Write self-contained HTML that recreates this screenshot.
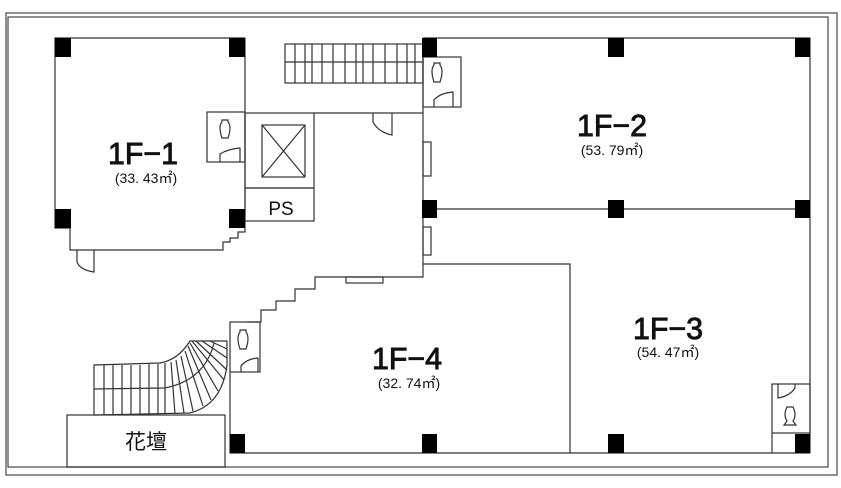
<!DOCTYPE html>
<html><head><meta charset="utf-8"><style>
html,body{margin:0;padding:0;background:#fff;}
svg{display:block;}
text{font-family:"Liberation Sans","Noto Sans CJK JP",sans-serif;fill:#111;}
.big{font-size:31px;stroke:#111;stroke-width:0.9;}
.small{font-size:14px;}
</style></head><body>
<svg width="841" height="488" viewBox="0 0 841 488" xmlns="http://www.w3.org/2000/svg">
<g fill="none" stroke="#555" stroke-width="1.3">
<rect x="6" y="13" width="831" height="462"/>
<rect x="8" y="17" width="820" height="450"/>
</g>
<g fill="none" stroke="#333" stroke-width="1.2">
<polyline points="245,38 55,38 55,228 70,228 70,250 223,250 223,242 230,242 230,238 238,238 238,232 245,232 245,38"/>
<path d="M77,250 L77,262 Q80,270 94,272 L94,250"/>
<rect x="207" y="112" width="38" height="50"/>
<path d="M220,162 L220,154 Q228,149 240,148 L240,162"/>
<path d="M222,120 h6 v2 q4,4 0,16 h-6 q-4,-12 0,-16 z"/>
<rect x="245" y="113" width="69" height="75"/>
<rect x="262" y="125" width="43" height="52"/>
<line x1="262" y1="125" x2="305" y2="177"/><line x1="305" y1="125" x2="262" y2="177"/>
<rect x="245" y="188" width="69" height="33"/>
<polyline points="314,113 423,113"/>
<path d="M373,113 L373,122 Q378,132 392,135 L392,113"/>
<polyline points="423,38 423,277 315,277 315,289 295,289 295,301 276,301 276,310 261,310 261,322 247,322"/>
<rect x="346" y="277" width="37" height="6"/>
<rect x="285" y="44" width="138" height="39"/>
<line x1="285" y1="62" x2="423" y2="62"/>
<path d="M295,44v39M305,44v39M312,44v39M322,44v39M333,44v39M345,44v39M356,44v39M363,44v39M373,44v39M385,44v39M397,44v39M407,44v39M415,44v39"/>
<polyline points="423,38 810,38 810,453"/>
<line x1="423" y1="209" x2="810" y2="209"/>
<rect x="423" y="57" width="38" height="50"/>
<path d="M434,107 L434,100 Q440,93 453,92 L453,107"/>
<path d="M434,63 h6 v2 q4,5 0,17 h-6 q-4,-12 0,-17 z"/>
<rect x="423" y="142" width="8" height="34"/>
<rect x="423" y="227" width="8" height="28"/>
<polyline points="423,264 570,264 570,453"/>
<polyline points="230,372 230,453 810,453"/>
<rect x="230" y="322" width="30" height="50"/>
<path d="M241,372 L241,366 Q246,359 258,358 L258,372"/>
<path d="M240,330 h6 v2 q4,5 0,17 h-6 q-4,-12 0,-17 z"/>
<rect x="772" y="384" width="38" height="49"/>
<line x1="772" y1="433" x2="772" y2="453"/>
<path d="M778,384 L778,398 Q790,396 795,388 L795,384"/>
<path d="M787,407 h6 q4,8 0,14 l3,4 h-12 l3,-4 q-4,-6 0,-14 z"/>
<rect x="67" y="415" width="158" height="52"/>
<path d="M94,415 L94,365 L160,363 Q178,360 190,341 L227,341 L227,365 Q222,405 190,413 L94,415"/>
<path d="M94,389 L165,388 Q205,380 214,343"/>
<path d="M104,365v50M113,365v50M122,365v50M131,365v50M140,365v50M149,364v51M158,364v51M165,363v51"/>
<path d="M171,362 L175,414 M176,360 L184,413 M181,356 L193,411 M185,351 L203,406 M188,346 L211,400 M190,343 L218,391 M192,341 L224,380 M196,341 L227,370 M202,341 L227,358 M210,341 L227,349"/>
</g>
<g fill="#000">
<rect x="55" y="38" width="16" height="19"/><rect x="229" y="38" width="16" height="19"/>
<rect x="55" y="209" width="16" height="19"/><rect x="229" y="209" width="16" height="19"/>
<rect x="422" y="38" width="15" height="19"/><rect x="608" y="38" width="16" height="19"/><rect x="795" y="38" width="15" height="19"/>
<rect x="422" y="200" width="15" height="18"/><rect x="608" y="200" width="16" height="18"/><rect x="795" y="200" width="15" height="18"/>
<rect x="230" y="434" width="15" height="19"/><rect x="422" y="434" width="15" height="19"/><rect x="608" y="434" width="16" height="19"/><rect x="795" y="434" width="15" height="19"/>
</g>
<g text-anchor="middle">
<text x="143" y="164" class="big" textLength="70" lengthAdjust="spacingAndGlyphs">1F−1</text>
<text x="146" y="183" class="small">(33. 43㎡)</text>
<text x="612" y="136" class="big" textLength="70" lengthAdjust="spacingAndGlyphs">1F−2</text>
<text x="612" y="155" class="small">(53. 79㎡)</text>
<text x="668" y="339" class="big" textLength="70" lengthAdjust="spacingAndGlyphs">1F−3</text>
<text x="668" y="357" class="small">(54. 47㎡)</text>
<text x="407" y="369" class="big" textLength="70" lengthAdjust="spacingAndGlyphs">1F−4</text>
<text x="409" y="388" class="small">(32. 74㎡)</text>
<text x="281" y="215" font-size="19">PS</text>
<text x="146" y="449" font-size="21">花壇</text>
</g>
</svg>
</body></html>
